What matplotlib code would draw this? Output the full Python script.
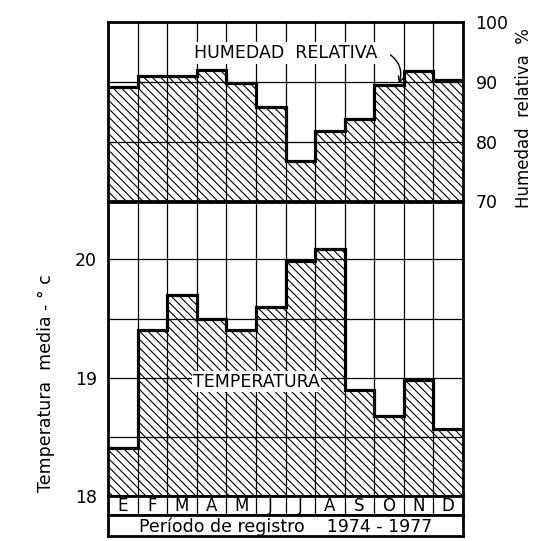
import matplotlib
matplotlib.use("Agg")
import matplotlib.pyplot as plt
import numpy as np

# ---- data ----
meses = ['E', 'F', 'M', 'A', 'M', 'J', 'J', 'A', 'S', 'O', 'N', 'D']
humedad = [89.1, 90.9, 91.0, 92.0, 89.8, 85.8, 76.8, 81.7, 83.8, 89.5, 91.8, 90.3]
temperatura = [18.41, 19.40, 19.70, 19.50, 19.40, 19.60, 19.99, 20.09, 18.90, 18.68, 18.98, 18.57]
hum_ticks = [70, 80, 90, 100]
temp_ticks = [18, 19, 20]
periodo = 'Período de registro    1974 - 1977'

plt.rcParams['font.family'] = ['DejaVu Sans']
plt.rcParams['hatch.linewidth'] = 0.8

W, H = 536, 541
fig = plt.figure(figsize=(W / 100, H / 100), dpi=100)
fig.patch.set_facecolor('white')


def fy(y):
    return 1 - y / H


L, R = 108 / W, 463 / W
axh = fig.add_axes([L, fy(201.5), R - L, fy(22) - fy(201.5)])
axt = fig.add_axes([L, fy(496), R - L, fy(201.5) - fy(496)])
axm = fig.add_axes([L, fy(515), R - L, fy(496) - fy(515)])
axp = fig.add_axes([L, fy(536), R - L, fy(515) - fy(536)])

n = len(meses)
x = np.arange(n) + 0.5
edges = np.arange(n + 1)

for ax in (axh, axt, axm, axp):
    ax.set_xlim(0, n)
    ax.set_xticks([])
    for s in ax.spines.values():
        s.set_linewidth(2.0)
        s.set_zorder(6)

# ---- humidity panel ----
axh.set_ylim(70, 100)
axh.bar(x, np.array(humedad) - 70, bottom=70, width=1.0, facecolor='white',
        edgecolor='black', hatch='\\\\\\\\', linewidth=0, zorder=1)
for e in edges[1:-1]:
    axh.axvline(e, color='black', lw=0.9, zorder=3)
for yv in (80, 90):
    axh.axhline(yv, color='black', lw=0.9, zorder=3)
axh.stairs(humedad, edges, baseline=None, color='black', lw=2.3, zorder=5)
axh.yaxis.tick_right()
axh.set_yticks(hum_ticks)
axh.tick_params(axis='y', length=0, pad=9, labelsize=12.5)
axh.text(6.0, 94.8, 'HUMEDAD  RELATIVA', ha='center', va='center', fontsize=12.5,
         zorder=7, bbox=dict(facecolor='white', edgecolor='none', pad=1.5))
axh.annotate('', xy=(9.83, 89.7), xytext=(9.55, 94.5),
             arrowprops=dict(arrowstyle='->', color='black', lw=1.0,
                             connectionstyle='arc3,rad=-0.35', shrinkA=0, shrinkB=0),
             zorder=7)

# ---- temperature panel ----
axt.set_ylim(18, 20.49)
axt.bar(x, np.array(temperatura) - 18, bottom=18, width=1.0, facecolor='white',
        edgecolor='black', hatch='\\\\\\\\', linewidth=0, zorder=1)
for e in edges[1:-1]:
    axt.axvline(e, color='black', lw=0.9, zorder=3)
for yv in (18.5, 19.0, 19.5, 20.0):
    axt.axhline(yv, color='black', lw=0.9, zorder=3)
axt.stairs(temperatura, edges, baseline=None, color='black', lw=2.3, zorder=5)
axt.set_yticks(temp_ticks)
axt.tick_params(axis='y', length=0, pad=8, labelsize=12.5)
axt.text(5.02, 18.965, 'TEMPERATURA', ha='center', va='center', fontsize=12.5,
         zorder=7, bbox=dict(facecolor='white', edgecolor='none', pad=1.0))

# ---- month row ----
axm.set_ylim(0, 1)
axm.set_yticks([])
for e in edges[1:-1]:
    axm.axvline(e, color='black', lw=0.9)
for xi, m in zip(x, meses):
    axm.text(xi, 0.45, m, ha='center', va='center', fontsize=12)

# ---- period row ----
axp.set_ylim(0, 1)
axp.set_yticks([])
axp.text(n / 2, 0.45, periodo, ha='center', va='center', fontsize=12.5)

# ---- axis titles ----
fig.text(46 / W, fy(383), 'Temperatura  media - ° c', rotation=90,
         ha='center', va='center', fontsize=12.5)
fig.text(524 / W, fy(118), 'Humedad  relativa  %', rotation=90,
         ha='center', va='center', fontsize=12)

fig.savefig('out.png', dpi=100, facecolor='white')
